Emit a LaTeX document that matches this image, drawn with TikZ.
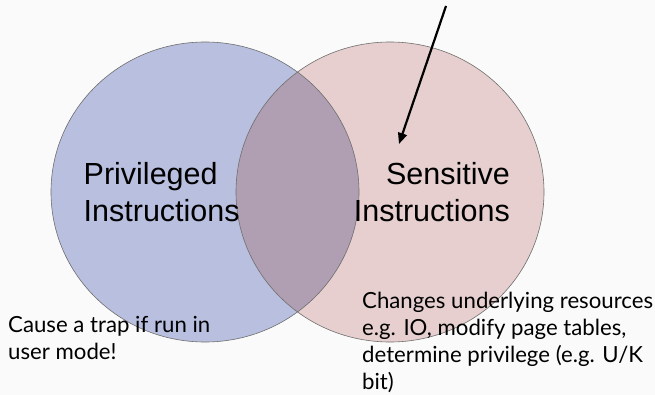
\documentclass[tikz,border=0pt]{standalone}
\usepackage{fontspec}
\setmainfont{Liberation Sans}
\newfontfamily\notefont{Lato}
\usetikzlibrary{arrows.meta}
\definecolor{pagebg}{HTML}{FAFAFA}
\definecolor{privfill}{HTML}{B8BFDF}
\definecolor{sensfill}{HTML}{E6CFCE}
\definecolor{bothfill}{HTML}{B09FB3}
\definecolor{rimgray}{HTML}{6E6E6E}
\tikzset{
  rim/.style={draw=rimgray, line width=0.6pt},
  bigtext/.style={inner sep=0pt, font={\fontsize{30.5}{37}\selectfont}},
  notetext/.style={inner sep=0pt, align=left, font={\notefont\fontsize{22.2}{27}\selectfont}},
  pointer/.style={line width=2.2pt, -{Triangle[length=11pt,width=9pt]}}
}
\begin{document}
\begin{tikzpicture}[x=1pt,y=-1pt]
  % canvas
  \fill[pagebg] (0,0) rectangle (655,395);
  \useasboundingbox (0,0) rectangle (655,395);

  % the two sets
  \fill[privfill] (205,192) ellipse [x radius=154pt, y radius=150pt];
  \fill[sensfill] (390,192) ellipse [x radius=154pt, y radius=150pt];
  \begin{scope}
    \clip (205,192) ellipse [x radius=154pt, y radius=150pt];
    \fill[bothfill] (390,192) ellipse [x radius=154pt, y radius=150pt];
  \end{scope}
  \draw[rim] (205,192) ellipse [x radius=154pt, y radius=150pt];
  \draw[rim] (390,192) ellipse [x radius=154pt, y radius=150pt];

  % set labels
  \node[bigtext, align=left, anchor=north west] (privlabel) at (83.5,162)
    {Privileged\\Instructions};
  \node[bigtext, align=right, anchor=north east] (senslabel) at (510,162)
    {Sensitive\\Instructions};

  % notes
  \node[notetext, anchor=north west] (privnote) at (8,316)
    {Cause a trap if run in\\user mode!};
  \node[notetext, anchor=north west] (sensnote) at (362,292)
    {Changes underlying resources\\e.g. IO, modify page tables,\\determine privilege (e.g. U/K\\bit)};

  % pointer into the sensitive set
  \coordinate (pfrom) at (446,6);
  \coordinate (pto) at (399,144);
  \draw[pointer] (pfrom) -- (pto);
\end{tikzpicture}
\end{document}
